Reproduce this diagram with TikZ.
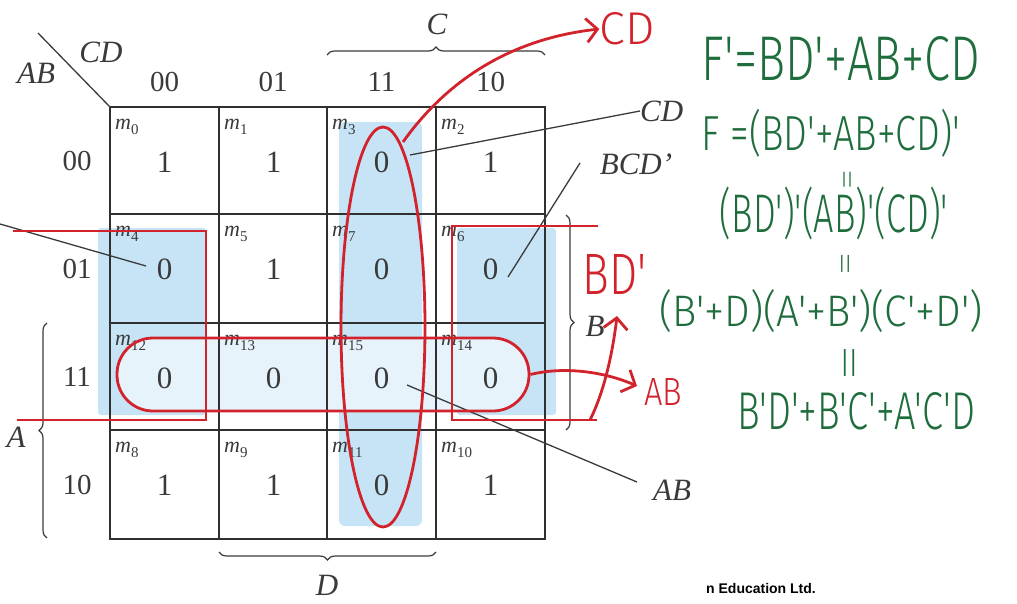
\documentclass[tikz,border=0pt]{standalone}
\usepackage{fontspec}
\setmainfont{Liberation Serif}
\newfontfamily\hand{Fira Sans Light}
\newfontfamily\handbar{Fira Sans}
\newfontfamily\creditfont{Liberation Sans}
\usetikzlibrary{decorations.pathreplacing,arrows.meta,shapes.geometric}
\definecolor{kblue}{HTML}{C6E4F6}
\definecolor{kpale}{HTML}{E6F3FB}
\definecolor{kred}{HTML}{D2222B}
\definecolor{kgreen}{HTML}{1F6D3C}
\definecolor{kgrid}{HTML}{303030}
\definecolor{ktext}{HTML}{3A3A3A}
\newcommand{\fsz}[1]{\fontsize{#1}{#1}\selectfont}
\newcommand{\mlabel}[1]{\textit{m}\raisebox{-0.22em}{\fsz{15}#1}}
\tikzset{
  gridline/.style={draw=kgrid, line width=2.6pt},
  val/.style={text=ktext, font=\fsz{31}, inner sep=0pt},
  mlab/.style={text=ktext, font=\fsz{22}, inner sep=0pt, anchor=west},
  axlab/.style={text=ktext, font=\fsz{29}, inner sep=0pt},
  booklab/.style={text=ktext, font=\itshape\fsz{31}, inner sep=0pt},
  leader/.style={draw=ktext, line width=1.3pt},
  bracestyle/.style={draw=ktext, line width=1.2pt, decorate, decoration={brace, amplitude=8pt}},
  redline/.style={draw=kred, line width=2.8pt},
  redarrow/.style={redline, -{Straight Barb[length=11pt, width=24pt]}},
  redlab/.style={text=kred, inner sep=0pt},
  greenlab/.style={text=kgreen, inner sep=0pt},
}
\begin{document}
\begin{tikzpicture}[x=1pt, y=-1pt]
\useasboundingbox (0,0) rectangle (1017,603);

% shading
\fill[kblue, rounded corners=3] (98,228) rectangle (206,415);
\fill[kblue, rounded corners=3] (457,228) rectangle (556,415);
\fill[kblue, rounded corners=6] (339,122) rectangle (422,526);
\fill[kpale, rounded corners=36] (117,338) rectangle (529,411);

% grid
\draw[gridline] (110,107) rectangle (545,539);
\foreach \x in {219,327,436} \draw[gridline] (\x,107) -- (\x,539);
\foreach \y in {214,323,430} \draw[gridline] (110,\y) -- (545,\y);

% corner
\coordinate (diagA) at (38,33);
\coordinate (diagB) at (110,107);
\draw[leader] (diagA) -- (diagB);
\node[booklab] (labAB) at (36,73) {AB};
\node[booklab] (labCD) at (101,52) {CD};

% column and row labels
\foreach \x/\t in {164.5/00, 273/01, 381.5/11, 490.5/10}
  \node[axlab] (col\t) at (\x,82) {\t};
\foreach \y/\t in {160.5/00, 268.5/01, 376.5/11, 484.5/10}
  \node[axlab] (row\t) at (77,\y) {\t};

% cells: left, top, minterm, value
\foreach \l/\t/\m/\v in {
  110/107/0/1, 219/107/1/1, 327/107/3/0, 436/107/2/1,
  110/214/4/0, 219/214/5/1, 327/214/7/0, 436/214/6/0,
  110/323/12/0, 219/323/13/0, 327/323/15/0, 436/323/14/0,
  110/430/8/1, 219/430/9/1, 327/430/11/0, 436/430/10/1}{
  \node[mlab] (m\m) at (\l+5,\t+20) {\mlabel{\m}};
  \node[val] (v\m) at (\l+54.5,\t+55) {\v};
}

% braces
\draw[bracestyle] (327,55) -- (545,55);
\node[booklab] (labC) at (437,24) {C};
\draw[bracestyle] (436,552) -- (219,552);
\node[booklab] (labD) at (327,585) {D};
\draw[bracestyle] (47,538) -- (47,323);
\node[booklab] (labA) at (16,437) {A};
\draw[bracestyle] (566,215) -- (566,430);
\node[booklab] (labB) at (595,326) {B};

% leaders
\coordinate (cdS) at (410,155);
\node[booklab, anchor=west] (tCD) at (640,111) {CD};
\draw[leader] (cdS) -- (tCD.west);
\coordinate (bcdS) at (508,277);
\coordinate (bcdE) at (580,163);
\node[booklab] (tBCD) at (636,164) {BCD'};
\draw[leader] (bcdS) -- (bcdE);
\coordinate (abS) at (407,385);
\coordinate (abE) at (637,482);
\node[booklab] (tAB) at (672,490) {AB};
\draw[leader] (abS) -- (abE);
\coordinate (lfS) at (0,224);
\coordinate (lfE) at (146,266);
\draw[leader] (lfS) -- (lfE);

% red annotations
\node[draw=kred, line width=2.8pt, ellipse, minimum width=84pt, minimum height=400pt, inner sep=0pt] (ellCD) at (383,327) {};
\node[redlab] (rCD) at (627,29) {\resizebox{55pt}{32pt}{\hand CD}};
\coordinate (cdA) at (403,142);
\draw[redarrow] (cdA) .. controls (440,90) and (500,40) .. (rCD.west);

\draw[redline] (13,231) -- (206,231) -- (206,420) -- (17,420);
\draw[redline] (598,226) -- (452,226) -- (452,420) -- (597,420);
\coordinate (bdA) at (590,420);
\coordinate (bdB) at (617,316);
\draw[redarrow] (bdA) .. controls (605,390) and (613,350) .. (bdB);
\node[redlab] (rBD) at (615,274) {\resizebox{64pt}{40pt}{\hand BD'}};

\node[draw=kred, line width=2.8pt, rounded corners=36pt, minimum width=412pt, minimum height=73pt, inner sep=0pt] (loopAB) at (323,374.5) {};
\coordinate (abB) at (637,386);
\draw[redarrow] (loopAB.east) .. controls (565,366) and (605,372) .. (abB);
\node[redlab] (rAB) at (663,392) {\resizebox{38pt}{27pt}{\hand AB}};

% green derivation
\node[greenlab] (g1) at (841,59) {\resizebox{278pt}{44pt}{\hand F'=BD'+AB+CD}};
\node[greenlab] (g2) at (831,133) {\resizebox*{258pt}{48pt}{\hand F =(BD'+AB+CD)'}};
\node[greenlab] (g3) at (847,180) {\resizebox*{12pt}{15pt}{\handbar ||}};
\node[greenlab] (g4) at (834,213) {\resizebox*{228pt}{53pt}{\hand (BD')'(AB)'(CD)'}};
\node[greenlab] (g5) at (845,264) {\resizebox*{13pt}{17pt}{\handbar ||}};
\node[greenlab] (g6) at (821,311) {\resizebox*{323pt}{43pt}{\hand (B'+D)(A'+B')(C'+D')}};
\node[greenlab] (g7) at (849,363) {\resizebox*{17pt}{27pt}{\handbar ||}};
\node[greenlab] (g8) at (856,411) {\resizebox{238pt}{37pt}{\hand B'D'+B'C'+A'C'D}};

\node[font=\creditfont\bfseries\fsz{14}, inner sep=0pt] (credit) at (761,588) {n Education Ltd.};
\end{tikzpicture}
\end{document}
